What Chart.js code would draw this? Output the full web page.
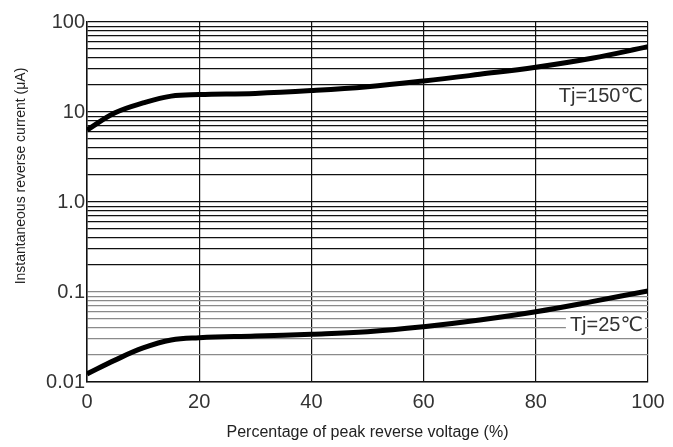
<!DOCTYPE html>
<html>
<head>
<meta charset="utf-8">
<script src="https://cdn.jsdelivr.net/npm/chart.js@4/dist/chart.umd.min.js"></script>
<style>
  html, body { margin: 0; padding: 0; background: #fff; }
  #wrap { width: 673px; height: 447px; }
</style>
</head>
<body>
<div id="wrap"><canvas id="leakage" width="673" height="447"></canvas></div>
<script>
// percent of peak reverse voltage
const VOLTAGE_PCT = [0, 5, 10, 15, 20, 30, 40, 50, 60, 70, 80, 90, 100];
// reverse current (uA) at Tj = 150 C
const IR_150 = [6.3, 9.8, 12.6, 15.0, 15.6, 16.1, 17.3, 19.1, 22.1, 26.2, 31.4, 39.5, 53];
// reverse current (uA) at Tj = 25 C
const IR_25 = [0.0123, 0.0175, 0.0239, 0.0293, 0.031, 0.0324, 0.0339, 0.0362, 0.0412, 0.0489, 0.0604, 0.0781, 0.103];

const X_TICKS = [0, 20, 40, 60, 80, 100];
const Y_DECADES = [0.01, 0.1, 1, 10, 100];
const Y_LABELS = ["0.01", "0.1", "1.0", "10", "100"];
const Y_TITLE = "Instantaneous reverse current (\u03bcA)";

const CURVE_LABELS = ["Tj=150\u2103", "Tj=25\u2103"];
const CURVE_LABEL_X = [99.1, 99.1];
const CURVE_LABEL_Y = [14.7, 0.043];

const FONT = "'Liberation Sans', Arial, sans-serif";

// log grid: 1..9 within each decade
const yGrid = [];
Y_DECADES.forEach((d, i) => {
  if (i === Y_DECADES.length - 1) { yGrid.push(d); return; }
  for (let k = 1; k <= 9; k++) yGrid.push(k * d);
});

function toPoints(ys) {
  return VOLTAGE_PCT.map((x, i) => ({ x: x, y: ys[i] }));
}

function decadeLabel(v) {
  for (let i = 0; i < Y_DECADES.length; i++) {
    if (Math.abs(Math.log10(v / Y_DECADES[i])) < 1e-6) return Y_LABELS[i];
  }
  return "";
}

const curveLabels = {
  id: "curveLabels",
  beforeDatasetsDraw(chart) {
    const ctx = chart.ctx;
    const xs = chart.scales.x;
    const ys = chart.scales.y;
    ctx.save();
    ctx.font = "20px " + FONT + ", 'DejaVu Sans'";
    ctx.textAlign = "right";
    ctx.textBaseline = "middle";
    CURVE_LABELS.forEach((t, i) => {
      const px = xs.getPixelForValue(CURVE_LABEL_X[i]);
      const py = ys.getPixelForValue(CURVE_LABEL_Y[i]);
      const w = ctx.measureText(t).width;
      ctx.fillStyle = "#fff";
      ctx.fillRect(px - w - 4, py - 10, w + 6, 20);
      ctx.fillStyle = "#333";
      ctx.fillText(t, px, py);
    });
    ctx.restore();
  },
  afterDraw(chart) {
    // y title sits a bit above the plot centre in the original
    const ctx = chart.ctx;
    const area = chart.chartArea;
    ctx.save();
    ctx.translate(21, (area.top + area.bottom) / 2 - 26);
    ctx.rotate(-Math.PI / 2);
    ctx.font = "14px " + FONT;
    ctx.fillStyle = "#222";
    ctx.textAlign = "center";
    ctx.textBaseline = "middle";
    ctx.fillText(Y_TITLE, 0, 0);
    ctx.restore();
  }
};

const ctx = document.getElementById("leakage");
new Chart(ctx, {
  type: "line",
  data: {
    datasets: [
      {
        label: "Tj=150",
        data: toPoints(IR_150),
        borderColor: "#000",
        borderWidth: 5,
        pointRadius: 0,
        tension: 0.4,
        fill: false,
      },
      {
        label: "Tj=25",
        data: toPoints(IR_25),
        borderColor: "#000",
        borderWidth: 5,
        pointRadius: 0,
        tension: 0.4,
        fill: false,
      },
    ],
  },
  options: {
    responsive: false,
    animation: false,
    layout: { padding: { left: 0, right: 25, top: 22, bottom: 0 } },
    plugins: {
      legend: { display: false },
      tooltip: { enabled: false },
    },
    scales: {
      x: {
        type: "linear",
        min: 0,
        max: 100,
        afterBuildTicks: (scale) => {
          scale.ticks = X_TICKS.map((v) => ({ value: v }));
        },
        afterFit: (scale) => { scale.height = 65; },
        grid: { color: "#111", lineWidth: 1.2, drawTicks: false },
        border: { color: "#111", width: 1.5 },
        ticks: {
          padding: 8,
          color: "#333",
          font: { family: FONT, size: 20 },
          maxRotation: 0,
          autoSkip: false,
        },
        title: {
          display: true,
          text: "Percentage of peak reverse voltage (%)",
          color: "#222",
          font: { family: FONT, size: 16 },
          padding: { top: 0, bottom: 5 },
        },
      },
      y: {
        type: "logarithmic",
        min: 0.01,
        max: 100,
        afterBuildTicks: (scale) => {
          scale.ticks = yGrid.map((v) => ({ value: v }));
        },
        afterFit: (scale) => { scale.width = 87; },
        grid: {
          drawTicks: false,
          lineWidth: 1.2,
          color: (c) => (c.tick && c.tick.value <= 0.1 + 1e-9 ? "#8a8a8a" : "#111"),
        },
        border: { color: "#111", width: 1.5 },
        ticks: {
          padding: 2,
          color: "#333",
          autoSkip: false,
          font: { family: FONT, size: 20 },
          callback: (v) => decadeLabel(v),
        },
      },
    },
  },
  plugins: [curveLabels],
});
</script>
</body>
</html>
